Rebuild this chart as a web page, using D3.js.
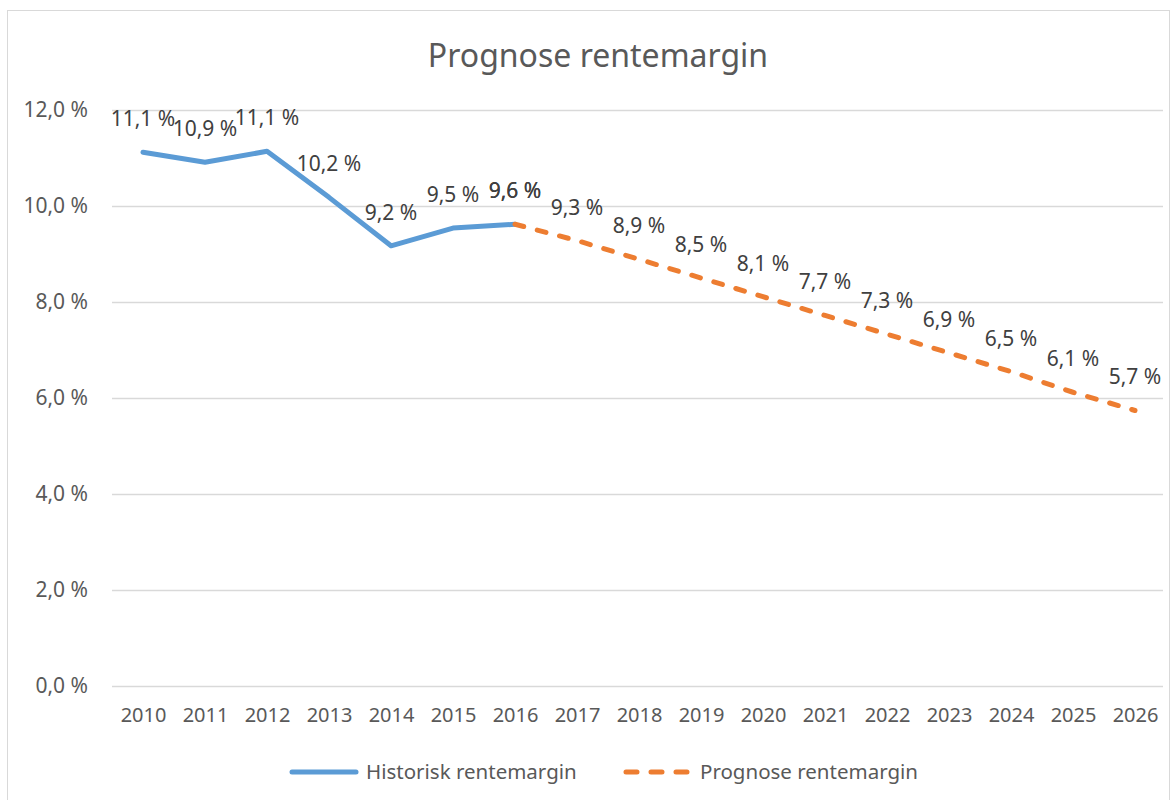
<!DOCTYPE html>
<html>
<head>
<meta charset="utf-8">
<script src="https://cdn.jsdelivr.net/npm/d3@7"></script>
<style>
  body { margin: 0; background: #fff; }
  text { font-family: "Noto Sans", "Open Sans", sans-serif; }
</style>
</head>
<body>
<script>
// years on the x axis
var years = ["2010","2011","2012","2013","2014","2015","2016","2017","2018",
             "2019","2020","2021","2022","2023","2024","2025","2026"];

// historic margin (2010-2016)
var histYears = ["2010","2011","2012","2013","2014","2015","2016"];
var histValues = [11.12, 10.91, 11.14, 10.18, 9.17, 9.54, 9.62];

// forecast margin (2016-2026)
var progYears = ["2016","2017","2018","2019","2020","2021","2022","2023","2024","2025","2026"];
var progValues = [9.62, 9.28, 8.89, 8.50, 8.11, 7.72, 7.33, 6.94, 6.55, 6.12, 5.74];

var yTicks = [0, 2, 4, 6, 8, 10, 12];
var seriesNames = ["Historisk rentemargin", "Prognose rentemargin"];

var w = 1173, h = 800;

var svg = d3.select("body").append("svg")
    .attr("width", w)
    .attr("height", h);

// chart border
svg.append("rect")
    .attr("x", 7.5).attr("y", 10.5)
    .attr("width", 1162).attr("height", 800)
    .attr("fill", "#fff")
    .attr("stroke", "#d9d9d9")
    .attr("stroke-width", 1);

var x = d3.scalePoint()
    .domain(years)
    .range([112, 1166])
    .padding(0.5);

var y = d3.scaleLinear()
    .domain([0, 12])
    .range([686, 110]);

// title
svg.append("text")
    .attr("x", 598).attr("y", 67)
    .attr("text-anchor", "middle")
    .attr("fill", "#595959")
    .style("font-size", "32px")
    .text("Prognose rentemargin");

// gridlines
svg.append("g").selectAll("line")
    .data(yTicks)
    .enter().append("line")
    .attr("x1", 112).attr("x2", 1163)
    .attr("y1", function(d){ return y(d) + 0.5; })
    .attr("y2", function(d){ return y(d) + 0.5; })
    .attr("stroke", "#d9d9d9")
    .attr("stroke-width", 1.5);

var fmt = function(v){ return d3.format(".1f")(v).replace(".", ",") + " %"; };

// y axis
var yAxis = svg.append("g")
    .attr("transform", "translate(112,0)")
    .call(d3.axisLeft(y).tickValues(yTicks).tickSize(0).tickPadding(24).tickFormat(fmt));
yAxis.select(".domain").remove();
yAxis.selectAll("text")
    .attr("fill", "#595959")
    .style("font-size", "21px");

// x axis
var xAxis = svg.append("g")
    .attr("transform", "translate(0,686)")
    .call(d3.axisBottom(x).tickSize(0).tickPadding(22));
xAxis.select(".domain").remove();
xAxis.selectAll("text")
    .attr("fill", "#595959")
    .style("font-size", "20px");

var line = d3.line()
    .x(function(d){ return x(d[0]); })
    .y(function(d){ return y(d[1]); });

var hist = d3.zip(histYears, histValues);
var prog = d3.zip(progYears, progValues);

svg.append("path")
    .datum(hist)
    .attr("d", line)
    .attr("fill", "none")
    .attr("stroke", "#5b9bd5")
    .attr("stroke-width", 5)
    .attr("stroke-linejoin", "round")
    .attr("stroke-linecap", "round");

svg.append("path")
    .datum(prog)
    .attr("d", line)
    .attr("fill", "none")
    .attr("stroke", "#ed7d31")
    .attr("stroke-width", 5)
    .attr("stroke-dasharray", "9,14")
    .attr("stroke-linecap", "round");

// data labels
[hist, prog].forEach(function(data){
    svg.append("g").selectAll("text")
        .data(data)
        .enter().append("text")
        .attr("x", function(d){ return x(d[0]); })
        .attr("y", function(d){ return y(d[1]) - 26; })
        .attr("text-anchor", "middle")
        .attr("fill", "#404040")
        .style("font-size", "21px")
        .text(function(d){ return fmt(d[1]); });
});

// legend
var legend = svg.append("g");
legend.append("line")
    .attr("x1", 292).attr("x2", 356)
    .attr("y1", 772).attr("y2", 772)
    .attr("stroke", "#5b9bd5").attr("stroke-width", 5)
    .attr("stroke-linecap", "round");
legend.append("text")
    .attr("x", 366).attr("y", 779)
    .attr("fill", "#595959")
    .style("font-size", "20.5px")
    .text(seriesNames[0]);
legend.append("line")
    .attr("x1", 626).attr("x2", 689)
    .attr("y1", 772).attr("y2", 772)
    .attr("stroke", "#ed7d31").attr("stroke-width", 5)
    .attr("stroke-dasharray", "11,14")
    .attr("stroke-linecap", "round");
legend.append("text")
    .attr("x", 700).attr("y", 779)
    .attr("fill", "#595959")
    .style("font-size", "20.5px")
    .text(seriesNames[1]);
</script>
</body>
</html>
